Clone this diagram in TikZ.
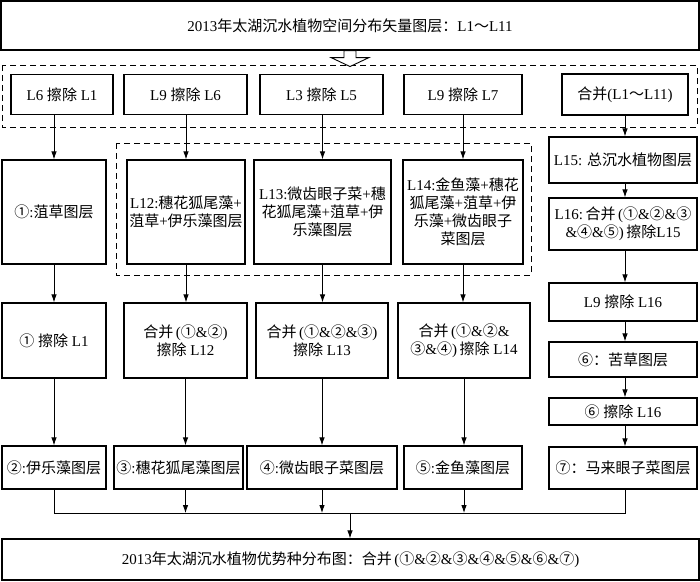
\documentclass[tikz,border=0pt]{standalone}
\usepackage{fontspec}
\setmainfont{Liberation Serif}
\newfontfamily\cjk{Noto Sans CJK SC}
\newcommand\zh[1]{{\cjk #1}}
\usetikzlibrary{arrows.meta,calc}
\tikzset{
  box/.style={draw, line width=1.1pt, align=center, inner sep=1pt, font=\fontsize{15}{18}\selectfont},
  arr/.style={-{Latex[length=8pt,width=5.5pt]}, line width=0.9pt},
  ln/.style={line width=0.9pt},
  dashbox/.style={draw, line width=1pt, dash pattern=on 6pt off 4pt},
  hollow/.style={draw, line width=0.9pt, fill=white}
}
\begin{document}
\begin{tikzpicture}[x=1pt,y=-1pt]
\useasboundingbox (0,0) rectangle (700,581);
% dashed groups
\draw[dashbox] (2,65) rectangle (697,127);
\draw[dashbox] (116,143) rectangle (531,275);
% top
\node[box, minimum width=698, minimum height=49] (top) at (350,25.5) {2013\zh{年太湖沉水植物空间分布矢量图层：}L1\zh{～}L11};
% hollow arrow
\draw[hollow] ($(top.south)+(-6,0)$) -- ($(top.south)+(6,0)$) -- ($(top.south)+(6,7)$) -- ($(top.south)+(19,7)$)
  -- ($(top.south)+(0,16)$) -- ($(top.south)+(-19,7)$) -- ($(top.south)+(-6,7)$) -- cycle;
% row 1
\node[box, minimum width=102, minimum height=40] (r1a) at (62,94.5) {L6 \zh{擦除} L1};
\node[box, minimum width=123, minimum height=40] (r1b) at (185.5,94.5) {L9 \zh{擦除} L6};
\node[box, minimum width=123, minimum height=40] (r1c) at (321.5,94.5) {L3 \zh{擦除} L5};
\node[box, minimum width=118, minimum height=40] (r1d) at (463,94.5) {L9 \zh{擦除} L7};
\node[box, minimum width=126, minimum height=41] (r1e) at (625,94.5) {\zh{合并}(L1\zh{～}L11)};
% row 2
\node[box, minimum width=104, minimum height=104] (r2a) at (54,212) {\zh{①}:\zh{菹草图层}};
\node[box, minimum width=118, minimum height=104] (r2b) at (186,212) {L12:\zh{穗花狐尾藻}+\\\zh{菹草}+\zh{伊乐藻图层}};
\node[box, minimum width=137, minimum height=104] (r2c) at (322.5,212) {L13:\zh{微齿眼子菜}+\zh{穗}\\\zh{花狐尾藻}+\zh{菹草}+\zh{伊}\\\zh{乐藻图层}};
\node[box, minimum width=120, minimum height=104] (r2d) at (463,212) {L14:\zh{金鱼藻}+\zh{穗花}\\\zh{狐尾藻}+\zh{菹草}+\zh{伊}\\\zh{乐藻}+\zh{微齿眼子}\\\zh{菜图层}};
% row 3
\node[box, minimum width=104, minimum height=75] (r3a) at (54,340.5) {\zh{①} \zh{擦除} L1};
\node[box, minimum width=123, minimum height=75] (r3b) at (185.5,340.5) {\zh{合并}\,(\zh{①}\&\zh{②})\\\zh{擦除} L12};
\node[box, minimum width=132, minimum height=75] (r3c) at (322,340.5) {\zh{合并}\,(\zh{①}\&\zh{②}\&\zh{③})\\\zh{擦除} L13};
\node[box, minimum width=132, minimum height=75] (r3d) at (464,340.5) {\zh{合并}\,(\zh{①}\&\zh{②}\&\\\zh{③}\&\zh{④})\,\zh{擦除} L14};
% row 4
\node[box, minimum width=104, minimum height=43] (r4a) at (54,467.5) {\zh{②}:\zh{伊乐藻图层}};
\node[box, minimum width=129, minimum height=43] (r4b) at (178.5,467.5) {\zh{③}:\zh{穗花狐尾藻图层}};
\node[box, minimum width=150, minimum height=43] (r4c) at (322,467.5) {\zh{④}:\zh{微齿眼子菜图层}};
\node[box, minimum width=118, minimum height=43] (r4d) at (463,467.5) {\zh{⑤}:\zh{金鱼藻图层}};
% right column
\node[box, minimum width=148, minimum height=46] (s1) at (623,160) {L15: \zh{总沉水植物图层}};
\node[box, minimum width=148, minimum height=52] (s2) at (623,224) {L16:\,\zh{合并}\,(\zh{①}\&\zh{②}\&\zh{③}\\\&\zh{④}\&\zh{⑤})\,\zh{擦除}L15};
\node[box, minimum width=148, minimum height=38] (s3) at (623,302) {L9 \zh{擦除} L16};
\node[box, minimum width=148, minimum height=35] (s4) at (623,359.5) {\zh{⑥：苦草图层}};
\node[box, minimum width=148, minimum height=27] (s5) at (623,411.5) {\zh{⑥} \zh{擦除} L16};
\node[box, minimum width=148, minimum height=42] (s6) at (623,468) {\zh{⑦：马来眼子菜图层}};
% bottom
\node[box, minimum width=697, minimum height=41] (bot) at (350.5,559.5) {2013\zh{年太湖沉水植物优势种分布图：合并}\,(\zh{①}\&\zh{②}\&\zh{③}\&\zh{④}\&\zh{⑤}\&\zh{⑥}\&\zh{⑦})};
% arrows row1 -> row2
\draw[arr] (r1a.south -| r2a.north) -- (r2a.north);
\draw[arr] (r1b.south -| r2b.north) -- (r2b.north);
\draw[arr] (r1c.south -| r2c.north) -- (r2c.north);
\draw[arr] (r1d.south -| r2d.north) -- (r2d.north);
% row2 -> row3
\draw[arr] (r2a.south) -- (r2a.south |- r3a.north);
\draw[arr] (r2b.south) -- (r2b.south |- r3b.north);
\draw[arr] (r2c.south) -- (r2c.south |- r3c.north);
\draw[arr] (r2d.south) -- (r2d.south |- r3d.north);
% row3 -> row4
\draw[arr] (r3a.south) -- (r3a.south |- r4a.north);
\draw[arr] (r3b.south) -- (r3b.south |- r4b.north);
\draw[arr] (r3c.south) -- (r3c.south |- r4c.north);
\draw[arr] (r3d.south) -- (r3d.south |- r4d.north);
% right column
\draw[arr] (r1e.south) -- (r1e.south |- s1.north);
\draw[arr] (s1.south -| r1e.south) -- (s2.north -| r1e.south);
\draw[arr] (s2.south -| r1e.south) -- (s3.north -| r1e.south);
\draw[arr] (s3.south -| r1e.south) -- (s4.north -| r1e.south);
\draw[arr] (s4.south -| r1e.south) -- (s5.north -| r1e.south);
\draw[arr] (s5.south -| r1e.south) -- (s6.north -| r1e.south);
% bus
\coordinate (busL) at ($(r4a.south)+(0,23.5)$);
\coordinate (busM) at (350,513);
\draw[ln] (r4a.south) -- (busL) -- (busL -| r1e.south) -- (s6.south -| r1e.south);
\draw[arr] (r4b.south -| r3b.south) -- (busL -| r3b.south);
\draw[arr] (r4c.south -| r3c.south) -- (busL -| r3c.south);
\draw[arr] (r4d.south -| r3d.south) -- (busL -| r3d.south);
\draw[arr] (busM) -- (busM |- bot.north);
\end{tikzpicture}
\end{document}
